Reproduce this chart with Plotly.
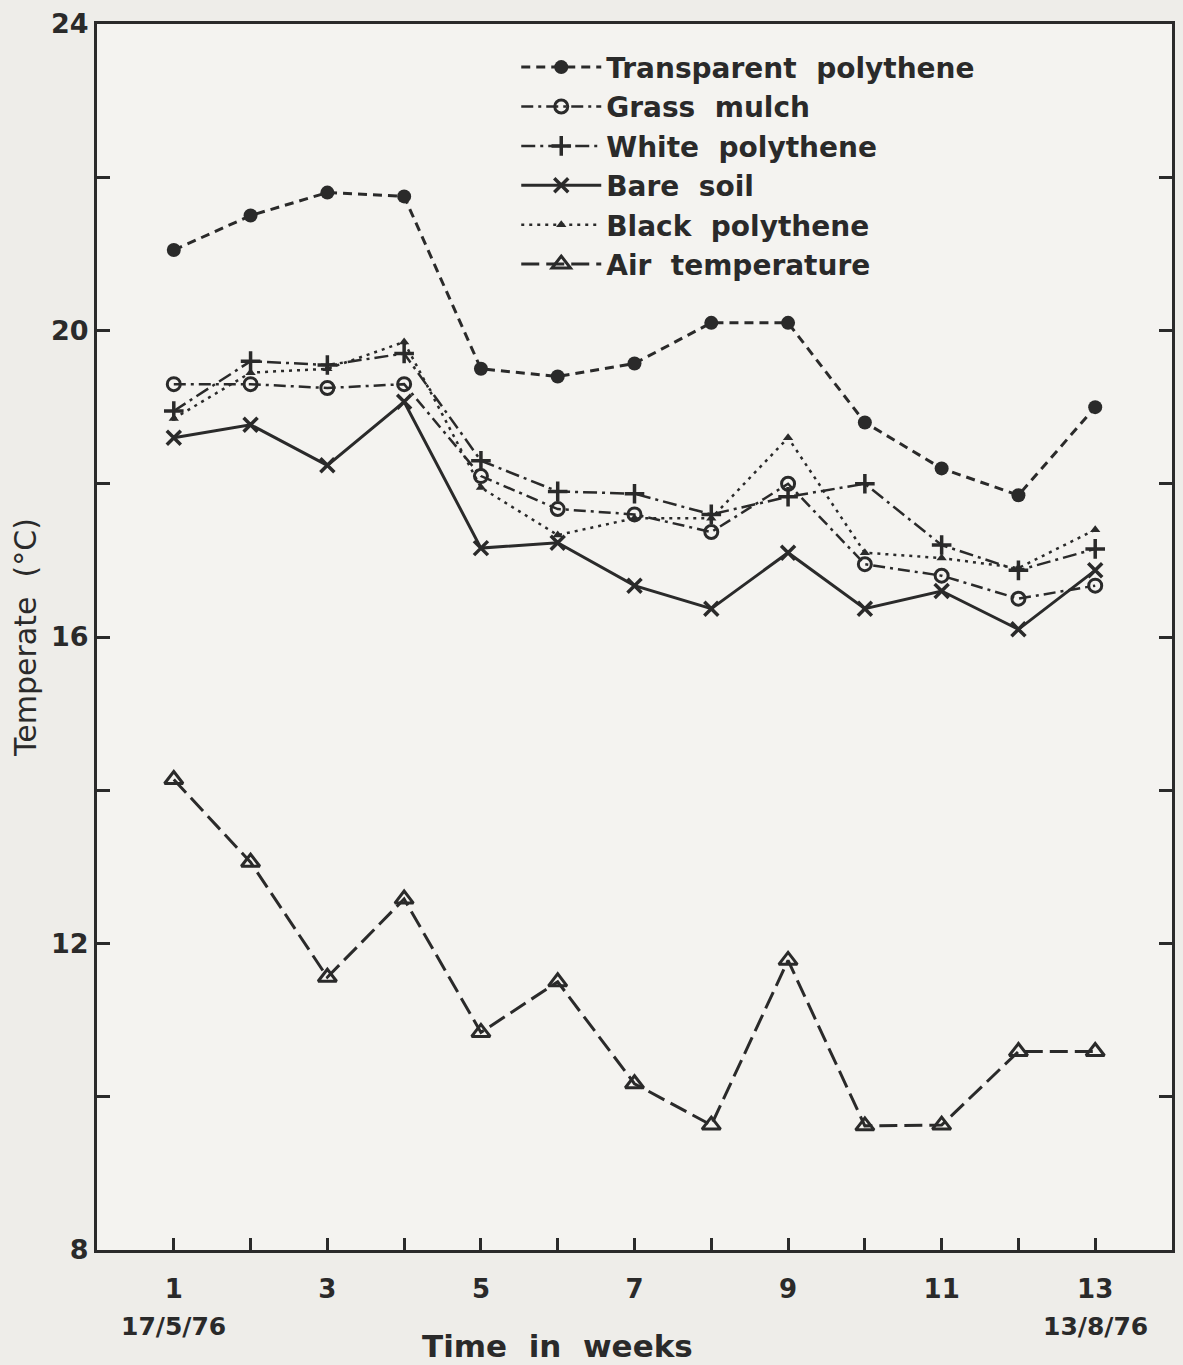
import plotly.graph_objects as go

weeks = list(range(1, 14))

transparent_poly = [21.05, 21.5, 21.8, 21.75, 19.5, 19.4, 19.57, 20.1, 20.1, 18.8, 18.2, 17.85, 19.0]
grass_mulch      = [19.3, 19.3, 19.25, 19.3, 18.1, 17.67, 17.6, 17.37, 18.0, 16.95, 16.8, 16.5, 16.67]
white_poly       = [18.95, 19.6, 19.55, 19.7, 18.3, 17.9, 17.87, 17.6, 17.83, 18.0, 17.2, 16.87, 17.15]
bare_soil        = [18.6, 18.77, 18.24, 19.07, 17.16, 17.23, 16.67, 16.37, 17.1, 16.37, 16.6, 16.1, 16.87]
black_poly       = [18.85, 19.45, 19.5, 19.85, 17.95, 17.33, 17.55, 17.55, 18.6, 17.1, 17.03, 16.9, 17.4]
air_temp         = [14.14, 13.06, 11.56, 12.58, 10.84, 11.5, 10.17, 9.63, 11.78, 9.62, 9.63, 10.59, 10.59]

series_names = ["Transparent  polythene", "Grass  mulch", "White  polythene",
                "Bare  soil", "Black  polythene", "Air  temperature"]

y_tickvals = [8, 10, 12, 14, 16, 18, 20, 22, 24]
y_ticktext = ["8", "", "12", "", "16", "", "20", "", "24"]
x_ticktext = [str(w) if w % 2 == 1 else "" for w in weeks]

INK = "#2a2a2a"
FONT = "DejaVu Sans"

styles = [
    dict(data=transparent_poly, symbol="circle", size=14, dash="9px,6px", width=3, mline=0),
    dict(data=grass_mulch, symbol="circle-open", size=13, dash="12px,5px,3px,5px", width=2.5, mline=3),
    dict(data=white_poly, symbol="cross-thin", size=14, dash="14px,5px,3px,5px", width=2.5, mline=3.5),
    dict(data=bare_soil, symbol="x-thin", size=14, dash="solid", width=3, mline=3.5),
    dict(data=black_poly, symbol="triangle-up", size=9, dash="3px,5px", width=2.5, mline=0),
    dict(data=air_temp, symbol="triangle-up-open", size=16, dash="18px,7px", width=3, mline=3),
]

fig = go.Figure()
for name, st in zip(series_names, styles):
    fig.add_trace(go.Scatter(
        x=weeks, y=st["data"], name=name, mode="lines+markers",
        line=dict(color=INK, width=st["width"], dash=st["dash"]),
        marker=dict(symbol=st["symbol"], size=st["size"], color=INK,
                    line=dict(color=INK, width=st["mline"])),
    ))

fig.update_layout(
    width=1183, height=1365,
    margin=dict(l=97, r=8, t=20, b=115),
    paper_bgcolor="#eeede9",
    plot_bgcolor="#f4f3f0",
    font=dict(family=FONT, color=INK),
    showlegend=True,
    legend=dict(
        x=0.39, y=0.985, xanchor="left", yanchor="top",
        bgcolor="rgba(0,0,0,0)", borderwidth=0,
        font=dict(family=FONT, size=28, color=INK, weight="bold"),
        itemwidth=80, tracegroupgap=0,
    ),
    xaxis=dict(
        range=[0, 14], tickvals=weeks, ticktext=x_ticktext,
        ticks="inside", ticklen=12, tickwidth=2.5, tickcolor=INK,
        showline=True, linecolor=INK, linewidth=3, mirror=True,
        showgrid=False, zeroline=False,
        tickfont=dict(family=FONT, size=26, color=INK, weight="bold"),
        ticklabelstandoff=14,
    ),
    yaxis=dict(
        range=[8, 24], tickvals=y_tickvals, ticktext=y_ticktext,
        ticks="inside", ticklen=13, tickwidth=2.5, tickcolor=INK,
        showline=True, linecolor=INK, linewidth=3, mirror="ticks",
        showgrid=False, zeroline=False,
        tickfont=dict(family=FONT, size=27, color=INK, weight="bold"),
        title=dict(text="Temperate  (°C)", font=dict(family=FONT, size=30, color=INK), standoff=6),
    ),
    annotations=[
        dict(text="17/5/76", x=1, xref="x", y=-0.062, yref="paper", xanchor="center", yanchor="middle",
             showarrow=False, font=dict(family=FONT, size=25, color=INK, weight="bold")),
        dict(text="13/8/76", x=13, xref="x", y=-0.062, yref="paper", xanchor="center", yanchor="middle",
             showarrow=False, font=dict(family=FONT, size=25, color=INK, weight="bold")),
        dict(text="Time  in  weeks", x=6, xref="x", y=-0.078, yref="paper", xanchor="center", yanchor="middle",
             showarrow=False, font=dict(family=FONT, size=31, color=INK, weight="bold")),
    ],
)

fig.write_html("out.html")
